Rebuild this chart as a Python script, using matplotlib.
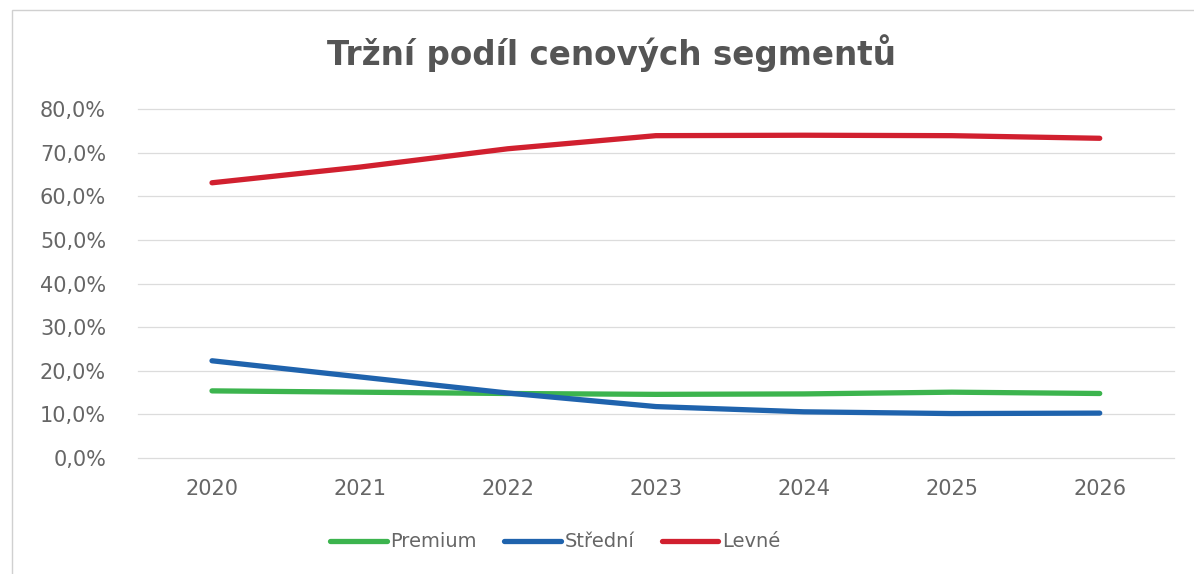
import matplotlib.pyplot as plt
from matplotlib.patches import Rectangle
from matplotlib.ticker import FuncFormatter

years = ["2020", "2021", "2022", "2023", "2024", "2025", "2026"]
premium = [15.4, 15.1, 14.8, 14.6, 14.7, 15.1, 14.8]
stredni = [22.3, 18.6, 14.9, 11.8, 10.6, 10.2, 10.3]
levne = [63.1, 66.7, 70.9, 73.9, 74.0, 73.9, 73.3]

series = [
    ("Premium", premium, "#3cb44e"),
    ("Střední", stredni, "#1f63ad"),
    ("Levné", levne, "#d1202f"),
]

plt.rcParams["font.family"] = ["DejaVu Sans"]
grey = "#666666"

fig = plt.figure(figsize=(11.94, 5.74), dpi=100)
ax = fig.add_axes([0.1156, 0.202, 0.8674, 0.608])

x = list(range(len(years)))
for name, vals, col in series:
    ax.plot(x, vals, color=col, lw=3.8, solid_capstyle="round", label=name)

ax.set_xlim(-0.5, len(years) - 0.5)
ax.set_ylim(0, 80)
ax.set_yticks(range(0, 81, 10))
ax.yaxis.set_major_formatter(FuncFormatter(lambda v, p: f"{v:.1f}%".replace(".", ",")))
ax.set_xticks(x)
ax.set_xticklabels(years)
ax.grid(axis="y", color="#dcdcdc", lw=0.9)
for gl in ax.get_ygridlines():
    gl.set_clip_on(False)
ax.set_axisbelow(True)
for s in ax.spines.values():
    s.set_visible(False)
ax.tick_params(length=0, labelsize=15, colors=grey)
ax.tick_params(axis="y", pad=23)
ax.tick_params(axis="x", pad=15)

fig.text(0.512, 0.908, "Tržní podíl cenových segmentů", ha="center", va="center",
         fontsize=23.5, fontweight="bold", color="#555555")

fig.legend(loc="center", bbox_to_anchor=(0.465, 0.056), ncol=3, frameon=False,
           fontsize=14, labelcolor=grey, handlelength=2.9, handletextpad=0.2,
           columnspacing=1.4)

fig.patches.append(Rectangle((0.01, -0.01), 1.2, 0.993, transform=fig.transFigure,
                             fill=False, edgecolor="#d0d0d0", lw=1))

fig.savefig("out.png", dpi=100)
